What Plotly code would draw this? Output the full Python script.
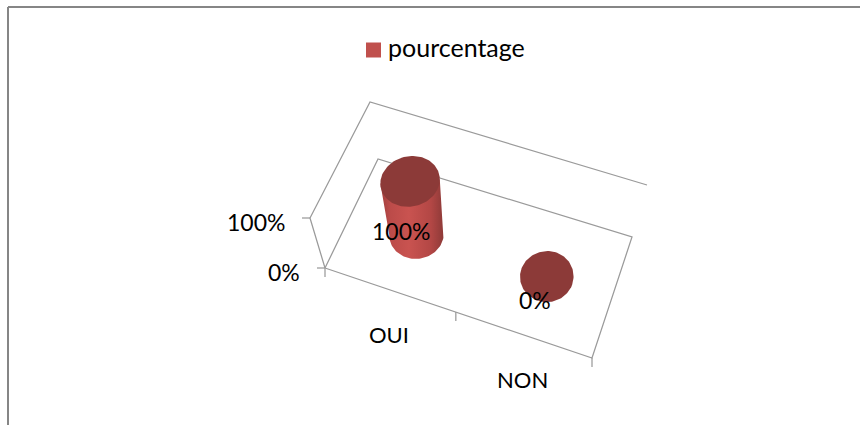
import numpy as np
import plotly.graph_objects as go

categories = ["OUI", "NON"]
pourcentage = [100, 0]
value_ticks = [0, 100]
series_name = "pourcentage"

FONT = "Lato, Carlito, sans-serif"
LINE = "#9a9a9a"
CAP = "#8c3a38"
SWATCH = "#c0504d"
SIDE = [[0, "#a03f3d"], [0.15, "#bb4b49"], [0.45, "#c95350"], [0.8, "#b34745"], [1, "#8e3a38"]]

# the 3d box as it sits on the page: floor corners and the way "up" goes at each
FL, FR, BR, BL = map(np.array, [(325, 268), (592, 358), (632, 237), (378, 159)])
UP_FL, UP_FR, UP_BR, UP_BL = map(np.array, [(-15, -50), (2, -52), (15, -52), (-8, -57)])
RU, RV = 0.097, 0.205


def bilinear(u, v, a, b, c, d):
    return (1 - v) * ((1 - u) * a + u * b) + v * ((1 - u) * d + u * c)


def project(u, v, h=0.0):
    return bilinear(u, v, FL, FR, BR, BL) + h * bilinear(u, v, UP_FL, UP_FR, UP_BR, UP_BL)


def path(points):
    pts = np.array(points)
    return pts[:, 0], pts[:, 1]


def ellipse(u, h, t):
    return np.array([project(u + RU * np.cos(a), 0.5 + RV * np.sin(a), h) for a in t])


fig = go.Figure()

# frame of the 3d box
hmax = max(value_ticks) / 100
frame = [
    [project(0, 0), project(1, 0), project(1, 1), project(0, 1), project(0, 0)],
    [project(0, 0), project(0, 0, hmax), project(0, 1, hmax), project(1, 1, hmax)],
]
ticks = [[project(u, 0), project(u, 0) + (0, 9)] for u in [0, 0.49, 1]]
ticks += [[project(0, 0, v / 100), project(0, 0, v / 100) + (-8, 0)] for v in value_ticks]
for seg in frame + ticks:
    x, y = path(seg)
    fig.add_trace(go.Scatter(x=x, y=y, mode="lines", line=dict(color=LINE, width=1.25),
                             hoverinfo="skip", showlegend=False))

# cylinders
t = np.linspace(0, 2 * np.pi, 121)
annotations = []
for i, (cat, val) in enumerate(zip(categories, pourcentage)):
    u = 0.25 + 0.5 * i
    h = val / 100
    base = ellipse(u, 0, t)
    top = ellipse(u, h, t)
    if val > 0:
        # lower half of the base, right to left, then across the top
        lower = base[base[:, 1] >= base[:, 1].mean()]
        lower = lower[np.argsort(-lower[:, 0])]
        side = np.vstack([top[top[:, 0].argmax()][None], base[base[:, 0].argmax()][None], lower,
                          base[base[:, 0].argmin()][None], top[top[:, 0].argmin()][None]])
        x, y = path(np.vstack([side, side[:1]]))
        fig.add_trace(go.Scatter(x=x, y=y, mode="lines", line=dict(width=0), fill="toself",
                                 fillgradient=dict(type="horizontal", colorscale=SIDE),
                                 hoverinfo="skip", showlegend=False))
    x, y = path(top)
    fig.add_trace(go.Scatter(x=x, y=y, mode="lines", line=dict(width=0), fill="toself",
                             fillcolor=CAP, hoverinfo="skip", showlegend=False))

    px, py = project(u, 0.5, h / 2)
    annotations.append(dict(x=px, y=py, text=f"{val}%", xshift=-12, yshift=-23, font=dict(size=23)))
    px, py = project(u, 0)
    annotations.append(dict(x=px, y=py, text=cat, xshift=-3, yshift=-43.5))

for v in value_ticks:
    px, py = project(0, 0, v / 100)
    annotations.append(dict(x=px, y=py, text=f"{v}%", xanchor="right", xshift=-23, yshift=-4, font=dict(size=23)))

# legend entry; plotly keeps its swatch too far from the text, so the square is drawn next to it
fig.add_trace(go.Scatter(x=[None], y=[None], mode="markers", name=series_name,
                         marker=dict(symbol="square", size=15, color="rgba(0,0,0,0)")))
fig.add_trace(go.Scatter(x=[373.5], y=[50], mode="markers", hoverinfo="skip", showlegend=False,
                         marker=dict(symbol="square", size=15, color=SWATCH)))

fig.update_layout(
    width=860, height=425, margin=dict(l=0, r=0, t=0, b=0),
    paper_bgcolor="white", plot_bgcolor="white",
    font=dict(family=FONT, size=22, color="black"),
    xaxis=dict(range=[0, 860], visible=False, fixedrange=True),
    yaxis=dict(range=[425, 0], visible=False, fixedrange=True),
    showlegend=True,
    legend=dict(x=348 / 860, y=1 - 24 / 425, xanchor="left", yanchor="top", itemsizing="trace",
                bgcolor="rgba(0,0,0,0)", font=dict(size=25, family=FONT)),
    annotations=[dict(a, xref="x", yref="y", showarrow=False) for a in annotations],
    shapes=[
        dict(type="line", xref="x", yref="y", x0=8, y0=7, x1=860, y1=7, line=dict(color="#868686", width=2)),
        dict(type="line", xref="x", yref="y", x0=8, y0=7, x1=8, y1=425, line=dict(color="#868686", width=2)),
    ],
)

fig.write_html("out.html", config=dict(displayModeBar=False), post_script="document.body.style.margin='0';")
